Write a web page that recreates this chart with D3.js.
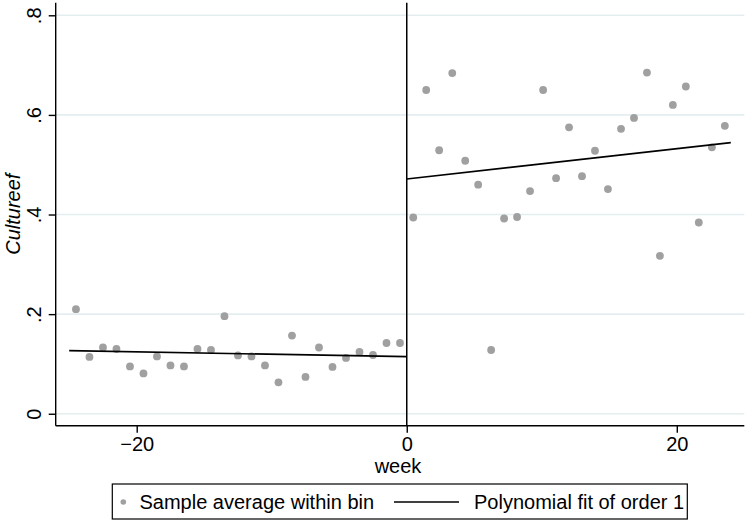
<!DOCTYPE html>
<html>
<head>
<meta charset="utf-8">
<script src="https://cdn.jsdelivr.net/npm/d3@7"></script>
<style>
  html, body { margin: 0; padding: 0; background: #fff; }
  svg { display: block; }
  text { font-family: "Liberation Sans", Arial, Helvetica, sans-serif; fill: #000; }
</style>
</head>
<body>
<svg id="chart" width="750" height="528"></svg>
<script>
// ---- data ----
const leftWeeks = [-24.5,-23.5,-22.5,-21.5,-20.5,-19.5,-18.5,-17.5,-16.5,-15.5,-14.5,-13.5,-12.5,-11.5,-10.5,-9.5,-8.5,-7.5,-6.5,-5.5,-4.5,-3.5,-2.5,-1.5,-0.5];
const leftMeans = [0.210,0.114,0.133,0.130,0.095,0.081,0.115,0.097,0.095,0.130,0.128,0.196,0.117,0.115,0.097,0.063,0.157,0.074,0.133,0.094,0.112,0.124,0.118,0.142,0.142];
const rightWeeks = [0.48,1.44,2.40,3.37,4.33,5.29,6.25,7.21,8.17,9.13,10.10,11.06,12.02,12.98,13.94,14.90,15.87,16.83,17.79,18.75,19.71,20.67,21.63,22.60,23.56];
const rightMeans = [0.394,0.650,0.529,0.684,0.508,0.460,0.128,0.392,0.395,0.447,0.650,0.473,0.575,0.477,0.528,0.451,0.572,0.594,0.685,0.317,0.620,0.657,0.384,0.535,0.578];
const leftFitWeeks = [-25, 0];
const leftFitValues = [0.1268, 0.1146];
const rightFitWeeks = [0, 24];
const rightFitValues = [0.4714, 0.5443];
const xTicks = [-20, 0, 20];
const xTickLabels = ["\u221220", "0", "20"];
const yTicks = [0, 0.2, 0.4, 0.6, 0.8];
const yTickLabels = ["0", ".2", ".4", ".6", ".8"];
const xTitle = "week";
const yTitle = "Cultureef";
const legendLabels = ["Sample average within bin", "Polynomial fit of order 1"];

// ---- layout ----
const svg = d3.select("#chart");
svg.append("rect").attr("width", 750).attr("height", 528).attr("fill", "#fff");

const plot = { left: 55.7, right: 744.3, top: 2.7, bottom: 425.7 };
const x = d3.scaleLinear().domain([-26, 25]).range([plot.left, plot.right]);
const y = d3.scaleLinear().domain([-0.024, 0.8253]).range([plot.bottom, plot.top]);

const fontSize = 20;
const pointColor = "#a0a0a0";

// gridlines
svg.append("g").selectAll("line").data(yTicks).join("line")
  .attr("x1", plot.left).attr("x2", plot.right)
  .attr("y1", d => y(d)).attr("y2", d => y(d))
  .attr("stroke", "#e4eef0").attr("stroke-width", 1.6);

// x axis
const xAxis = d3.axisBottom(x).tickValues(xTicks).tickSize(7).tickPadding(4)
  .tickFormat((d, i) => xTickLabels[i]);
const gx = svg.append("g").attr("transform", `translate(0,${plot.bottom})`).call(xAxis);
gx.select(".domain").attr("d", `M${plot.left},0H${plot.right}`).attr("stroke", "#000").attr("stroke-width", 1.4);
gx.selectAll(".tick line").attr("stroke", "#000").attr("stroke-width", 1.4);
gx.selectAll(".tick text").attr("font-size", fontSize).attr("font-family", "Liberation Sans, Arial, sans-serif").attr("fill", "#000");

// y axis
const yAxis = d3.axisLeft(y).tickValues(yTicks).tickSize(7).tickPadding(0)
  .tickFormat((d, i) => yTickLabels[i]);
const gy = svg.append("g").attr("transform", `translate(${plot.left},0)`).call(yAxis);
gy.select(".domain").attr("d", `M0,${plot.top}V${plot.bottom}`).attr("stroke", "#000").attr("stroke-width", 1.4);
gy.selectAll(".tick line").attr("stroke", "#000").attr("stroke-width", 1.4);
gy.selectAll(".tick text")
  .attr("font-size", fontSize).attr("font-family", "Liberation Sans, Arial, sans-serif").attr("fill", "#000")
  .attr("x", null).attr("dy", null)
  .attr("text-anchor", "middle")
  .attr("transform", "translate(-14.5,0) rotate(-90)");

// vertical line at the cutoff
svg.append("line")
  .attr("x1", x(0)).attr("x2", x(0))
  .attr("y1", plot.top).attr("y2", plot.bottom)
  .attr("stroke", "#000").attr("stroke-width", 1.5);

// points
const pts = leftWeeks.map((w, i) => [w, leftMeans[i]])
  .concat(rightWeeks.map((w, i) => [w, rightMeans[i]]));
svg.append("g").selectAll("circle").data(pts).join("circle")
  .attr("cx", d => x(d[0])).attr("cy", d => y(d[1])).attr("r", 3.9)
  .attr("fill", pointColor);

// fit lines
const line = d3.line().x(d => x(d[0])).y(d => y(d[1]));
[[leftFitWeeks, leftFitValues], [rightFitWeeks, rightFitValues]].forEach(([ws, vs]) => {
  svg.append("path")
    .attr("d", line(ws.map((w, i) => [w, vs[i]])))
    .attr("fill", "none").attr("stroke", "#000").attr("stroke-width", 1.6);
});

// axis titles
svg.append("text").attr("x", 398).attr("y", 473)
  .attr("text-anchor", "middle").attr("font-size", fontSize).text(xTitle);
svg.append("text")
  .attr("transform", `translate(20,${(plot.top + plot.bottom) / 2}) rotate(-90)`)
  .attr("text-anchor", "middle").attr("font-size", fontSize)
  .attr("font-style", "italic").text(yTitle);

// legend
const lg = svg.append("g");
lg.append("rect").attr("x", 112.3).attr("y", 484).attr("width", 575).attr("height", 35)
  .attr("fill", "#fff").attr("stroke", "#000").attr("stroke-width", 1.2);
lg.append("circle").attr("cx", 123.3).attr("cy", 502).attr("r", 2.8).attr("fill", pointColor);
lg.append("text").attr("x", 139.5).attr("y", 509).attr("font-size", fontSize).text(legendLabels[0]);
lg.append("line").attr("x1", 394).attr("x2", 459).attr("y1", 502).attr("y2", 502)
  .attr("stroke", "#000").attr("stroke-width", 1.5);
lg.append("text").attr("x", 474).attr("y", 509).attr("font-size", fontSize).text(legendLabels[1]);
</script>
</body>
</html>
